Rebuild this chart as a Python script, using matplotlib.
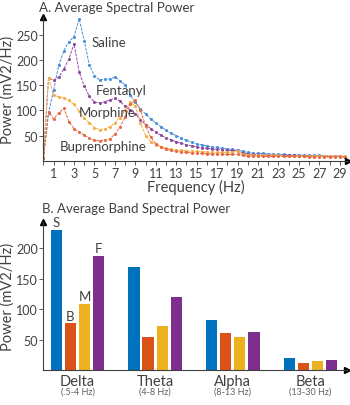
import numpy as np
import matplotlib
matplotlib.use('Agg')
import matplotlib.pyplot as plt

plt.rcParams['font.family'] = ['Lato', 'DejaVu Sans']
plt.rcParams['text.color'] = '#404040'
plt.rcParams['axes.labelcolor'] = '#404040'
plt.rcParams['xtick.color'] = '#404040'
plt.rcParams['ytick.color'] = '#404040'

# panel A: spectra, 0.5 Hz bins from 0 to 29.5 Hz
freq = np.arange(0, 30, 0.5)
saline = [5, 95, 140, 189, 218, 236, 246, 281, 238, 189, 169, 160, 162, 162, 166, 159,
          150, 130, 116, 103, 93, 83, 75, 68, 61, 55, 50, 45, 41, 37, 34, 32, 30, 28, 27, 25,
          24, 23, 22, 19, 17, 16, 15, 15, 14, 14, 13, 13, 12, 12, 12, 11, 11, 11, 11, 10,
          10, 10, 9, 8]
fentanyl = [5, 164, 160, 166, 182, 202, 232, 176, 148, 128, 116, 115, 117, 121, 124, 118,
            108, 100, 93, 82, 72, 64, 57, 51, 46, 42, 38, 35, 32, 30, 28, 26, 25, 24, 23, 22,
            21, 21, 20, 16, 14, 13, 13, 12, 12, 12, 11, 11, 11, 11, 10, 10, 10, 10, 10, 10,
            9, 9, 9, 8]
morphine = [5, 165, 130, 127, 125, 120, 112, 98, 85, 75, 66, 62, 63, 68, 75, 86,
            100, 117, 108, 75, 50, 38, 32, 28, 25, 23, 22, 21, 20, 19, 19, 18, 18, 17, 17, 17,
            17, 18, 19, 14, 12, 12, 11, 11, 11, 11, 11, 10, 10, 10, 10, 10, 10, 10, 10, 10,
            10, 10, 10, 9]
bupren = [5, 97, 83, 95, 104, 78, 64, 57, 51, 45, 41, 40, 41, 44, 53, 67,
          87, 112, 120, 100, 70, 47, 34, 28, 24, 21, 19, 18, 17, 16, 15, 15, 14, 14, 14, 13,
          13, 13, 13, 11, 10, 10, 10, 9, 9, 9, 9, 9, 9, 9, 9, 9, 8, 8, 8, 8,
          8, 8, 8, 8]

# panel B: band power
bands = ['Delta', 'Theta', 'Alpha', 'Beta']
band_ranges = ['(.5-4 Hz)', '(4-8 Hz)', '(8-13 Hz)', '(13-30 Hz)']
band_saline = [230, 170, 83, 21]
band_bupren = [77, 55, 61, 13]
band_morphine = [109, 72, 55, 16]
band_fentanyl = [187, 120, 63, 17]
bar_letters = ['S', 'B', 'M', 'F']

blue, red, yellow, purple = '#0072BD', '#D95319', '#EDB120', '#7E2F8E'
axis_col = '#404040'

fig = plt.figure(figsize=(3.5, 4.06), dpi=100)

# ---- A
ax = fig.add_axes([0.124, 0.601, 0.87, 0.355])
line_kw = dict(lw=0.7, ls=(0, (3, 1.2)), marker='o', ms=1.2)
ax.plot(freq, saline, color='#4A8FDB', **line_kw)
ax.plot(freq, fentanyl, color='#8E4AA0', **line_kw)
ax.plot(freq, morphine, color='#F4AE40', **line_kw)
ax.plot(freq, bupren, color='#E8673F', **line_kw)
ax.set_xlim(0, 29.8)
ax.set_ylim(0, 285)
ax.set_xticks(np.arange(1, 30, 2))
ax.set_xticks(np.arange(0, 30, 1), minor=True)
ax.set_yticks([50, 100, 150, 200, 250])
ax.tick_params(labelsize=9, length=3, width=0.6, pad=1, color=axis_col)
ax.tick_params(which='minor', length=3, width=0.6, color=axis_col)
ax.set_xlabel('Frequency (Hz)', fontsize=10.5, labelpad=0)
ax.set_ylabel('Power (mV2/Hz)', fontsize=10.5, labelpad=1)
ax.text(-0.015, 1.03, 'A. Average Spectral Power', transform=ax.transAxes,
        fontsize=9.5, ha='left', va='bottom')
ax.text(4.7, 235, 'Saline', fontsize=9.5, va='center')
ax.text(5.1, 140, 'Fentanyl', fontsize=9.5, va='center')
ax.text(3.5, 97, 'Morphine', fontsize=9.5, va='center')
ax.text(1.6, 30, 'Buprenorphine', fontsize=9.5, va='center')

# ---- B
bx = fig.add_axes([0.124, 0.085, 0.867, 0.366])
x = np.arange(len(bands))
pitch, width = 0.182, 0.146
series = [band_saline, band_bupren, band_morphine, band_fentanyl]
colors = [blue, red, yellow, purple]
for i, (vals, c) in enumerate(zip(series, colors)):
    off = (i - 1.5) * pitch
    bx.bar(x + off, vals, width=width, color=c)
    bx.text(off, vals[0] + 3, bar_letters[i], ha='center', va='bottom', fontsize=9.5)
bx.set_xlim(-0.44, 3.47)
bx.set_ylim(0, 243)
bx.set_yticks([50, 100, 150, 200])
bx.set_xticks([])
bx.tick_params(labelsize=9, length=3, width=0.6, pad=1, color=axis_col)
bx.set_ylabel('Power (mV2/Hz)', fontsize=10.5, labelpad=1)
bx.text(-0.005, 1.05, 'B. Average Band Spectral Power', transform=bx.transAxes,
        fontsize=9.5, ha='left', va='bottom')
for xi, name, rng in zip(x, bands, band_ranges):
    bx.text(xi, -6, name, ha='center', va='top', fontsize=10.5)
    bx.text(xi, -27, rng, ha='center', va='top', fontsize=6.5, color='#606060')

for a in (ax, bx):
    for s in ('top', 'right'):
        a.spines[s].set_visible(False)
    for s in ('left', 'bottom'):
        a.spines[s].set_color(axis_col)
        a.spines[s].set_linewidth(0.8)
    a.plot(0, 1, marker='^', color='black', ms=4, transform=a.transAxes, clip_on=False)
    a.plot(1, 0, marker='>', color='black', ms=4, transform=a.transAxes, clip_on=False)

fig.savefig('out.png', dpi=100)
